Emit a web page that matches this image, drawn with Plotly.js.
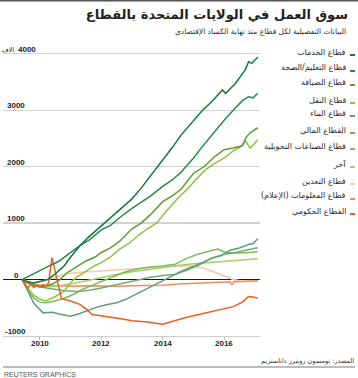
<!DOCTYPE html>
<html><head><meta charset="utf-8">
<script src="https://cdn.plot.ly/plotly-3.0.1.min.js"></script>
<style>html,body{margin:0;padding:0;background:#fff;}#chart{width:358px;height:378px;}</style>
</head><body><div id="chart"></div>
<script>
// ---- data (thousands of jobs, change since June 2009) ----
const servicesT = [2009.42,2009.6,2009.8,2010.0,2010.25,2010.5,2010.8,2011.0,2011.3,2011.6,2012.0,2012.3,2012.6,2013.0,2013.3,2013.6,2014.0,2014.3,2014.6,2015.0,2015.3,2015.6,2015.95,2016.05,2016.35,2016.7,2016.8,2016.9,2017.1];
const servicesV = [0,-40,-60,-30,0,100,250,400,600,760,950,1080,1230,1430,1620,1830,2100,2330,2560,2820,3000,3150,3360,3300,3460,3720,3860,3830,3940];

const eduT = [2009.42,2009.6,2009.85,2010.0,2010.25,2010.6,2010.8,2011.0,2011.3,2011.6,2012.0,2012.3,2012.6,2013.0,2013.3,2013.6,2014.0,2014.3,2014.6,2015.0,2015.3,2015.6,2016.0,2016.3,2016.6,2016.8,2016.95,2017.1];
const eduV = [0,50,130,170,230,320,400,470,600,700,880,960,1100,1260,1370,1480,1650,1760,1900,2150,2360,2560,2820,3000,3170,3240,3220,3300];

const hospT = [2009.42,2009.6,2009.9,2010.1,2010.4,2010.65,2010.87,2011.2,2011.5,2011.8,2012.0,2012.3,2012.6,2013.0,2013.3,2013.6,2014.0,2014.3,2014.6,2015.0,2015.35,2015.7,2016.0,2016.3,2016.6,2016.72,2016.85,2017.1];
const hospV = [0,-60,-120,-130,-80,0,115,220,330,400,480,560,680,900,1000,1150,1380,1480,1600,1880,2000,2180,2300,2330,2370,2520,2600,2690];

const transT = [2009.42,2009.6,2009.8,2010.0,2010.2,2010.5,2010.8,2011.0,2011.2,2011.5,2011.8,2012.0,2012.3,2012.6,2012.9,2013.2,2013.5,2013.8,2014.1,2014.5,2014.8,2015.1,2015.4,2015.7,2016.0,2016.3,2016.55,2016.7,2016.85,2016.95,2017.1];
const transV = [0,-150,-280,-350,-380,-300,-200,-50,45,150,250,300,400,540,640,780,900,1000,1200,1440,1600,1780,1950,2060,2150,2280,2350,2460,2330,2380,2480];

const constrT = [2009.42,2009.6,2009.8,2010.1,2010.4,2010.7,2011.0,2011.3,2011.6,2011.9,2012.2,2012.5,2012.8,2013.1,2013.4,2013.7,2014.0,2014.3,2014.6,2015.0,2015.3,2015.6,2015.9,2016.2,2016.5,2016.8,2016.95,2017.1];
const constrV = [0,-200,-420,-590,-580,-620,-650,-600,-540,-480,-440,-410,-350,-270,-180,-100,-20,60,150,230,300,380,420,520,560,620,640,725];

const finT = [2009.42,2009.7,2010.0,2010.4,2010.8,2011.2,2011.6,2012.0,2012.4,2012.8,2013.2,2013.6,2014.0,2014.4,2014.8,2015.2,2015.6,2016.0,2016.3,2016.6,2016.9,2017.1];
const finV = [0,-80,-130,-170,-200,-210,-190,-150,-100,-50,0,40,70,90,170,260,380,450,470,500,540,565];

const manuT = [2009.42,2009.6,2009.8,2010.0,2010.2,2010.5,2010.8,2011.1,2011.4,2011.7,2012.0,2012.3,2012.7,2013.0,2013.5,2014.0,2014.4,2014.8,2015.1,2015.5,2015.8,2016.0,2016.3,2016.6,2016.9,2017.1];
const manuV = [0,-180,-330,-400,-410,-380,-330,-260,-170,-100,-30,40,120,170,220,240,270,380,440,500,540,490,470,470,480,495];

const otherT = [2009.42,2009.7,2010.0,2010.5,2011.0,2011.5,2012.0,2012.5,2013.0,2013.5,2014.0,2014.5,2015.0,2015.5,2016.0,2016.5,2016.8,2017.1];
const otherV = [0,-90,-130,-120,-80,-20,40,90,140,180,220,250,280,300,320,340,350,370];

const miningT = [2009.42,2009.7,2010.0,2010.3,2010.6,2011.0,2011.5,2012.0,2012.5,2013.0,2013.5,2014.0,2014.5,2014.9,2015.2,2015.5,2015.8,2016.05,2016.3,2016.6,2016.9,2017.1];
const miningV = [0,-50,-40,10,60,110,140,150,170,190,200,220,240,240,220,170,110,50,0,-30,-30,-25];

const infoT = [2009.42,2009.6,2009.9,2010.2,2010.6,2011.0,2011.5,2012.0,2012.5,2013.0,2013.5,2014.0,2014.5,2015.0,2015.5,2016.0,2016.2,2016.26,2016.32,2016.6,2016.9,2017.1];
const infoV = [0,-50,-90,-110,-110,-120,-110,-120,-120,-110,-110,-100,-80,-70,-60,-50,-40,-90,-40,-35,-25,-20];

const govT = [2009.42,2009.5,2009.6,2009.7,2009.8,2009.9,2010.0,2010.1,2010.2,2010.28,2010.39,2010.7,2011.0,2011.3,2011.5,2011.7,2012.0,2012.3,2012.7,2013.0,2013.5,2014.0,2014.3,2014.7,2015.0,2015.5,2016.0,2016.3,2016.6,2016.8,2016.95,2017.1];
const govV = [0,-70,-150,-80,-140,-100,-130,-90,-110,-60,390,-340,-380,-440,-520,-620,-640,-660,-700,-730,-750,-790,-740,-680,-640,-580,-510,-480,-400,-300,-310,-330];

const sectorNames = ["قطاع الخدمات","قطاع التعليم/الصحة","قطاع الضيافة","قطاع النقل","قطاع البناء","القطاع المالي","قطاع الصناعات التحويلية","آخر","قطاع التعدين","قطاع المعلومات (الإعلام)","القطاع الحكومي"];
const yTickVals = [4000,3000,2000,1000,0,-1000];
const yTickText = ["4000","3000","2000","1000","0","-1000"];
const yUnit = "الاف";
const xTickVals = [2010,2012,2014,2016];
const xTickText = ["2010","2012","2014","2016"];

// ---- styles ----
const colors = ["#127a3b","#208c48","#5c9e34","#8cc43f","#5f9f74","#6db070","#7cba5e","#a6d06a","#fbc6a6","#f4895c","#f25b1c"];
const series = [
  [servicesT,servicesV],[eduT,eduV],[hospT,hospV],[transT,transV],[constrT,constrV],
  [finT,finV],[manuT,manuV],[otherT,otherV],[miningT,miningV],[infoT,infoV],[govT,govV]
];

const W=358,H=378,L=3,R=98,T=51,B=42;
const PW=W-L-R, PH=H-T-B;
const px2x = px => (px-L)/PW;
const py2y = py => (H-B-py)/PH;

const drawOrder = [8,9,7,6,5,4,3,2,10,1,0];
const traces = drawOrder.map(i => ({
  x: series[i][0], y: series[i][1], type:'scatter', mode:'lines',
  name: sectorNames[i], line:{color:colors[i], width:1.5}, hoverinfo:'skip', showlegend:false
}));

const arFont = "DejaVu Sans";
const numFont = {family:"Liberation Sans",size:8,color:'#222',weight:'bold'};
const annotations = [];
// y labels
const yLabelX = [16,5,5,5,12,3];
yTickVals.forEach((v,k)=>{
  annotations.push({xref:'paper',yref:'y',x:px2x(yLabelX[k]),y:v,xanchor:'left',yanchor:'bottom',yshift:-2,
    text:yTickText[k],showarrow:false,font:numFont});
});
annotations.push({xref:'paper',yref:'y',x:px2x(16),y:4000,xanchor:'right',yanchor:'bottom',yshift:-2,
  text:yUnit,showarrow:false,font:{family:arFont,size:6.5,color:'#222'}});
// x labels
xTickVals.forEach((v,k)=>{
  annotations.push({xref:'x',yref:'paper',x:v,y:py2y(343),xanchor:'center',yanchor:'middle',
    text:xTickText[k],showarrow:false,font:numFont});
});
// legend
const legendY = [52,68,82,100,113,130,146,164,181,196,211];
const shapes = [];
sectorNames.forEach((n,i)=>{
  annotations.push({xref:'paper',yref:'paper',x:px2x(348),y:py2y(legendY[i]),xanchor:'right',yanchor:'middle',
    text:n,showarrow:false,font:{family:arFont,size:8,color:'#2a2a2a'}});
  shapes.push({type:'line',xref:'paper',yref:'paper',x0:px2x(350),x1:px2x(355),y0:py2y(legendY[i]+3),y1:py2y(legendY[i]+3),
    line:{color:colors[i],width:2}});
});
// subtitle, source, credit
annotations.push({xref:'paper',yref:'paper',x:px2x(348),y:py2y(31),xanchor:'right',yanchor:'middle',showarrow:false,
  text:"البيانات التفصيلية لكل قطاع منذ نهاية الكساد الإقتصادي",font:{family:arFont,size:7.5,color:'#333'}});
annotations.push({xref:'paper',yref:'paper',x:px2x(356),y:py2y(361),xanchor:'right',yanchor:'middle',showarrow:false,
  text:"المصدر: تومسون رويترز داتاستريم",font:{family:arFont,size:6.5,color:'#333'}});
annotations.push({xref:'paper',yref:'paper',x:px2x(2),y:py2y(374),xanchor:'left',yanchor:'middle',showarrow:false,
  text:"REUTERS GRAPHICS",font:{family:"Liberation Sans Narrow, Liberation Sans",size:7,color:'#555'}});
// rules
shapes.push({type:'line',xref:'paper',yref:'paper',x0:px2x(0),x1:px2x(358),y0:py2y(0.8),y1:py2y(0.8),line:{color:'#555',width:1.6}});
shapes.push({type:'line',xref:'paper',yref:'paper',x0:px2x(3),x1:px2x(355),y0:py2y(367),y1:py2y(367),line:{color:'#777',width:1}});

const layout = {
  width:W,height:H,margin:{l:L,r:R,t:T,b:B},
  paper_bgcolor:'#fff',plot_bgcolor:'#fff',
  title:{text:"سوق العمل في الولايات المتحدة بالقطاع",xref:'container',yref:'container',x:348/W,xanchor:'right',y:1-14/H,yanchor:'middle',
    font:{family:arFont,size:13,color:'#222',weight:'bold'}},
  xaxis:{range:[2008.794,2017.174],tickvals:xTickVals,showticklabels:false,showgrid:false,zeroline:false,
    showline:true,linecolor:'#cfcfcf',linewidth:1.3,ticks:'outside',ticklen:3,tickcolor:'#bbb',tickwidth:1,fixedrange:true},
  yaxis:{range:[-1000,4050],tickvals:yTickVals,showticklabels:false,showgrid:true,gridcolor:'#d2d2d2',gridwidth:1.3,
    zeroline:true,zerolinecolor:'#1a1a1a',zerolinewidth:1.8,showline:false,ticks:'',fixedrange:true},
  annotations:annotations,shapes:shapes,showlegend:false
};
Plotly.newPlot('chart',traces,layout,{staticPlot:true,displayModeBar:false});
</script></body></html>
